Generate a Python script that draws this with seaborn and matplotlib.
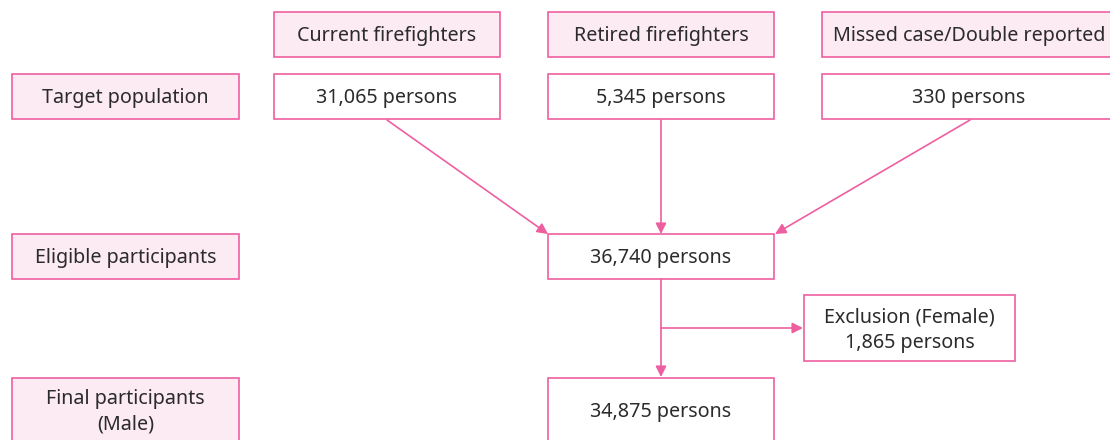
import matplotlib
matplotlib.use("Agg")
import matplotlib.pyplot as plt
import seaborn as sns
from matplotlib.patches import Rectangle

sns.set_theme(style="white")
plt.rcParams['font.family'] = ['Noto Sans', 'DejaVu Sans']

# 数据
stage_labels = ["Target population", "Eligible participants", "Final participants\n(Male)"]
group_labels = ["Current firefighters", "Retired firefighters", "Missed case/Double reported"]
group_counts = [31065, 5345, 330]
eligible = 36740
excluded = 1865
final = 34875

edge_col = "#EE5FA0"
fill_col = "#FDEBF3"
text_col = "#2b2b2b"

fig, ax = plt.subplots(figsize=(11.1, 4.4), dpi=100)
fig.subplots_adjust(0, 0, 1, 1)
ax.set_xlim(0, 1110)
ax.set_ylim(440, 0)
ax.axis("off")


def box(x0, y0, x1, y1, text, filled=False):
    ax.add_patch(Rectangle((x0, y0), x1 - x0, y1 - y0, facecolor=fill_col if filled else "white",
                           edgecolor=edge_col, linewidth=1.2, clip_on=False))
    ax.text((x0 + x1) / 2, (y0 + y1) / 2 + 2, text, ha="center", va="center",
            fontsize=14.2, color=text_col, linespacing=1.38)


def arrow(x0, y0, x1, y1):
    ax.annotate("", xy=(x1, y1), xytext=(x0, y0),
                arrowprops=dict(arrowstyle="-|>", color=edge_col, lw=1.2,
                                mutation_scale=16, shrinkA=0, shrinkB=0))


# 左侧阶段标签
stage_y = [(74, 119), (234, 279), (378, 441)]
for lab, (ya, yb) in zip(stage_labels, stage_y):
    box(12, ya, 239, yb, lab, filled=True)

# 分组
col_x = [(274, 500), (548, 774), (822, 1116)]
for lab, n, (xa, xb) in zip(group_labels, group_counts, col_x):
    box(xa, 12, xb, 57, lab, filled=True)
    box(xa, 74, xb, 119, f"{n:,} persons")

box(548, 234, 774, 279, f"{eligible:,} persons")
box(804, 295, 1015, 361, f"Exclusion (Female)\n{excluded:,} persons")
box(548, 378, 774, 441, f"{final:,} persons")

# 箭头
arrow(387, 120, 548, 234)
arrow(661, 120, 661, 234)
arrow(970, 120, 775, 234)
arrow(661, 279, 661, 377)
arrow(661, 328, 803, 328)

plt.savefig("out.png", dpi=100)
